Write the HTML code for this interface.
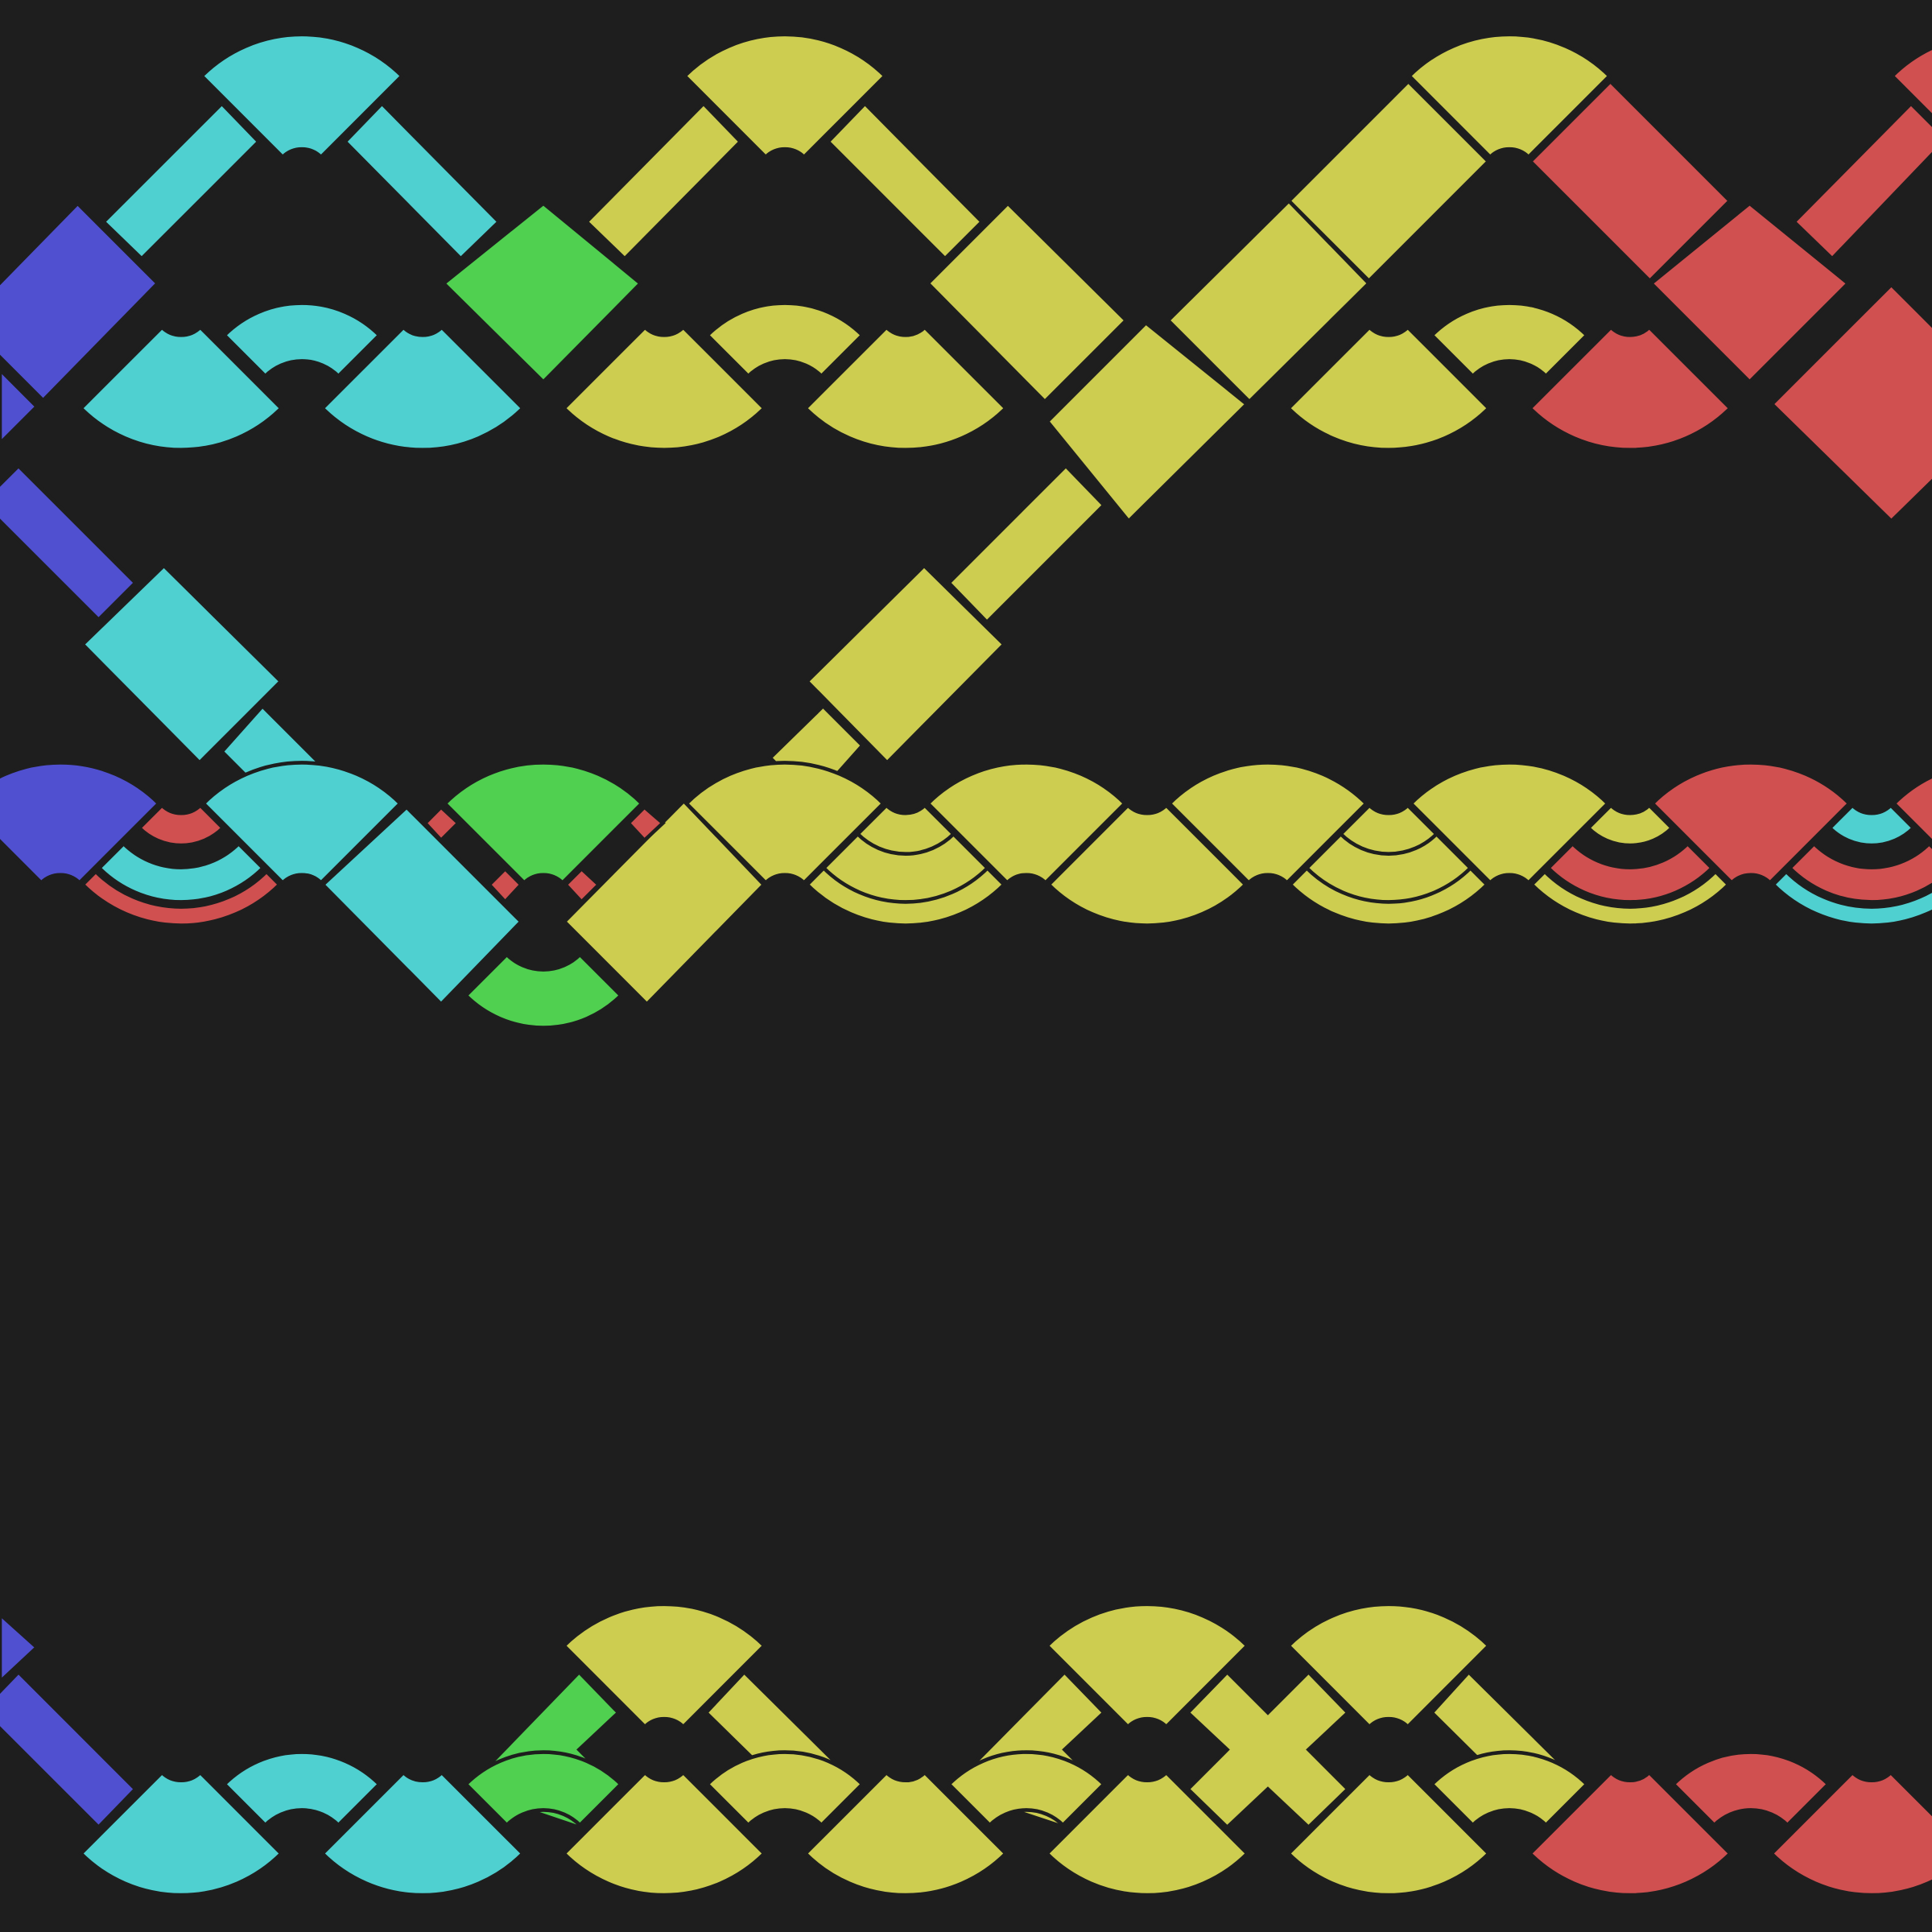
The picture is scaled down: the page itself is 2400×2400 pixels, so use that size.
<!DOCTYPE html>
<html><head><meta charset="utf-8"><style>
html,body{margin:0;padding:0;background:#1e1e1e;}
svg{display:block;}
</style></head><body>
<svg id="art" xmlns="http://www.w3.org/2000/svg" width="2400" height="2400" viewBox="0 0 1568 1568">
<rect x="0" y="0" width="1568" height="1568" fill="#1e1e1e"/>
<g id="layer"></g>
</svg>
<script>
const C={c:'#4fd0d0',y:'#cdcd50',r:'#d05050',g:'#50d050',b:'#5050d0'};
// fans: [dir, cx, cy, R, r0, color]
const fans=[
['u',245,143,115,22,'c'],['u',637,143,115,22,'y'],['u',1225,143,115,22,'y'],['u',1617,143,115,22,'r'],
['d',147,250,115,22,'c'],['d',343,250,115,22,'c'],['d',539,250,115,22,'y'],['d',735,250,115,22,'y'],['d',1127,250,115,22,'y'],['d',1323,250,115,22,'r'],
['u',245,335,89,42,'c'],['u',637,335,89,42,'y'],['u',1225,335,89,42,'y'],
['u',49,732,113,22,'b'],['u',245,732,113,22,'c'],['u',441,732,113,22,'g'],['u',637,732,113,22,'y'],['u',833,732,113,22,'y'],['u',1029,732,113,22,'y'],['u',1225,732,113,22,'y'],['u',1421,732,113,22,'r'],['u',1617,732,113,22,'r'],
['d',147,638,113,98,'r'],['d',147,638,94,66,'c'],['d',147,638,48,22,'r'],
['d',735,638,113,22,'y'],['d',735,638,94,22,'y'],['d',735,638,55,22,'y'],
['d',931,638,113,22,'y'],
['d',1127,638,113,22,'y'],['d',1127,638,94,22,'y'],['d',1127,638,55,22,'y'],
['d',1323,638,113,98,'y'],['d',1323,638,94,66,'r'],['d',1323,638,48,22,'y'],
['d',1519,638,113,98,'c'],['d',1519,638,94,66,'r'],['d',1519,638,48,22,'c'],
['d',441,745,89,42,'g'],
['u',245,1511,89,42,'c'],['u',441,1511,89,42,'g'],['u',637,1511,89,42,'y'],['u',833,1511,89,42,'y'],['u',1225,1511,89,42,'y'],['u',1421,1511,89,42,'r'],
['u',539,1417,115,22,'y'],['u',931,1417,115,22,'y'],['u',1127,1417,115,22,'y'],
['d',147,1423,115,22,'c'],['d',343,1423,115,22,'c'],['d',539,1423,115,22,'y'],['d',735,1423,115,22,'y'],['d',931,1423,115,22,'y'],['d',1127,1423,115,22,'y'],['d',1323,1423,115,22,'r'],['d',1519,1423,115,22,'r']
];
// polygons: [color, points]
const polys=[
['c','84,180 180,84 210,115 115,210'],['c','280,115 310,84 405,180 374,210'],
['y','476,180 571,84 601,115 507,210'],['y','672,115 702,84 797,180 767,210'],
['r','1456,180 1551,84 1580,113 1487,210'],
['y','1046,163 1143,66 1208,131 1111,228'],['r','1242,131 1307,66 1404,163 1339,228'],
['b','63,165 128,230 35,325 -30,260'],['b','0,300 30,330 0,360'],
['g','441,165 520,230 441,310 360,230'],
['y','818,165 914,260 848,326 753,230'],['y','1046,163 1111,230 1014,326 948,260'],
['y','930,262 1012,328 916,423 850,342'],
['r','1420,165 1500,230 1420,310 1340,230'],['r','1535,231 1632,328 1535,423 1438,328'],
['b','15,378 110,473 80,503 -15,408'],['y','865,378 896,410 801,505 770,473'],
['c','133,459 228,553 162,619 67,523'],['y','750,459 815,523 720,619 655,553'],
['c','213,573 260,620 230,660 180,610'],['y','668,573 700,605 660,650 625,615'],
['c','330,655 423,748 358,815 262,718'],['y','555,650 620,718 525,815 458,748'],
['r','358,655 372,668 358,682 345,668'],['r','523,655 538,668 523,682 510,668'],
['r','410,705 423,718 410,732 397,718'],['r','472,705 486,718 472,732 459,718'],
['b','0,1310 30,1337 0,1365'],['b','15,1357 110,1452 80,1483 -15,1388'],
['g','470,1357 502,1390 470,1420 502,1452 470,1483 378,1452'],
['y','604,1357 700,1452 668,1483 573,1390'],
['y','864,1357 896,1390 864,1420 896,1452 864,1483 770,1452'],
['y','996,1357 1029,1390 1062,1357 1094,1390 1062,1420 1094,1452 1062,1483 1029,1452 996,1483 964,1452 996,1420 964,1390'],
['y','1192,1357 1288,1452 1256,1483 1162,1390']
];
function fanPath(d,cx,cy,R,r0){
  const s=(d==='u')?-1:1, k=Math.SQRT1_2;
  const ox1=cx-R*k, oy1=cy+s*R*k, ox2=cx+R*k, ix1=cx-r0*k, iy1=cy+s*r0*k, ix2=cx+r0*k;
  const sw=(d==='u')?1:0;
  return `M${ix1},${iy1} L${ox1},${oy1} A${R},${R} 0 0 ${sw} ${ox2},${oy1} L${ix2},${iy1} A${r0},${r0} 0 0 ${1-sw} ${ix1},${iy1} Z`;
}
const layer=document.getElementById('layer');
const NS='http://www.w3.org/2000/svg';
polys.forEach(p=>{
  const el=document.createElementNS(NS,'polygon');
  el.setAttribute('points',p[1]);el.setAttribute('fill',C[p[0]]);
  el.setAttribute('stroke','#1e1e1e');el.setAttribute('stroke-width','3');
  
  
  layer.appendChild(el);
});
fans.forEach(f=>{
  const el=document.createElementNS(NS,'path');
  el.setAttribute('d',fanPath(f[0],f[1],f[2],f[3],f[4]));el.setAttribute('fill',C[f[5]]);
  el.setAttribute('stroke','#1e1e1e');el.setAttribute('stroke-width','3');
  
  
  layer.appendChild(el);
});
</script>
</body></html>
